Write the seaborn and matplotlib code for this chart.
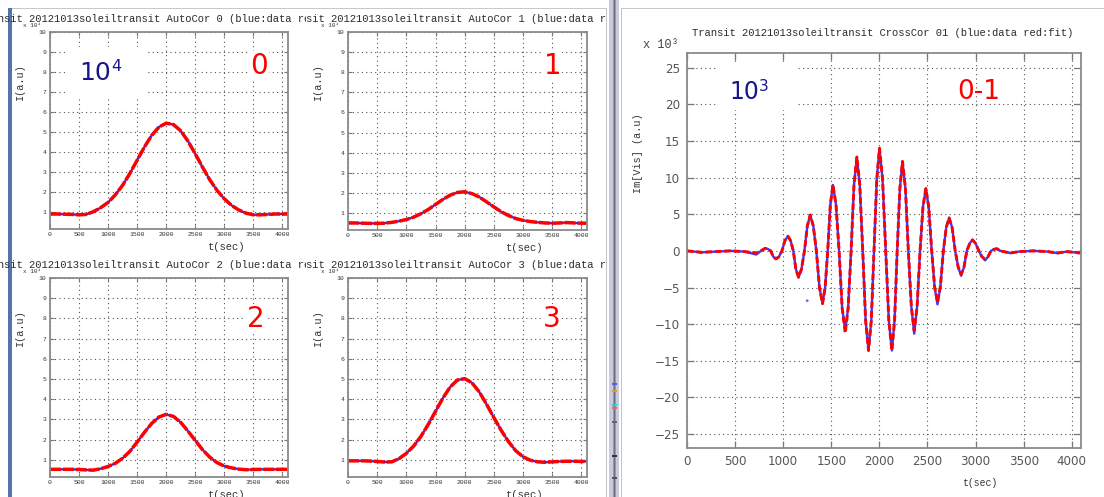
import numpy as np
import pandas as pd
import matplotlib
matplotlib.use("Agg")
import matplotlib.pyplot as plt
import seaborn as sns
from matplotlib.patches import Rectangle
from matplotlib.transforms import Bbox, TransformedBbox

# ---------------------------------------------------------------- data
t_auto = [0, 125, 250, 375, 500, 625, 750, 875, 1000, 1125, 1250, 1375, 1500,
          1625, 1750, 1875, 2000, 2125, 2250, 2375, 2500, 2625, 2750, 2875,
          3000, 3125, 3250, 3375, 3500, 3625, 3750, 3875, 4000, 4096]

# auto-correlations, units of 1e4
auto0 = [0.90, 0.90, 0.89, 0.88, 0.86, 0.88, 1.02, 1.22, 1.48, 1.86, 2.34, 2.93,
         3.59, 4.25, 4.83, 5.25, 5.44, 5.37, 5.06, 4.54, 3.91, 3.24, 2.61, 2.08,
         1.66, 1.33, 1.10, 0.94, 0.86, 0.86, 0.88, 0.90, 0.90, 0.90]
auto1 = [0.50, 0.50, 0.49, 0.48, 0.48, 0.49, 0.53, 0.59, 0.67, 0.79, 0.96, 1.17,
         1.42, 1.67, 1.88, 2.02, 2.05, 1.96, 1.79, 1.55, 1.30, 1.06, 0.87, 0.72,
         0.63, 0.57, 0.53, 0.50, 0.49, 0.50, 0.52, 0.50, 0.49, 0.49]
auto2 = [0.53, 0.53, 0.53, 0.53, 0.52, 0.50, 0.49, 0.56, 0.67, 0.83, 1.08, 1.42,
         1.88, 2.36, 2.80, 3.12, 3.25, 3.15, 2.85, 2.42, 1.96, 1.50, 1.13, 0.86,
         0.69, 0.60, 0.54, 0.51, 0.52, 0.53, 0.53, 0.53, 0.53, 0.53]
auto3 = [0.95, 0.95, 0.95, 0.94, 0.92, 0.89, 0.90, 1.06, 1.32, 1.68, 2.16, 2.75,
         3.40, 4.05, 4.60, 4.95, 5.02, 4.81, 4.36, 3.75, 3.09, 2.46, 1.90, 1.45,
         1.15, 0.98, 0.90, 0.88, 0.90, 0.92, 0.93, 0.93, 0.92, 0.92]

# cross-correlation 0-1, units of 1e3
t_cross = [0, 150, 300, 450, 600, 720, 780, 814, 842, 870, 897, 925, 956, 987,
           1018, 1049, 1077, 1105, 1132, 1160, 1190, 1221, 1251, 1281, 1313,
           1345, 1377, 1409, 1436, 1463, 1490, 1517, 1549, 1581, 1613, 1645,
           1675, 1706, 1736, 1766, 1796, 1827, 1857, 1887, 1916, 1944, 1973,
           2001, 2033, 2066, 2098, 2130, 2158, 2185, 2213, 2240, 2271, 2301,
           2332, 2362, 2392, 2423, 2453, 2483, 2513, 2544, 2574, 2604, 2634,
           2665, 2695, 2725, 2756, 2788, 2819, 2850, 2880, 2909, 2939, 2968,
           3001, 3034, 3066, 3099, 3129, 3160, 3190, 3220, 3260, 3359, 3450,
           3600, 3750, 3850, 3950, 4096]
cross_fit = [0.0, -0.2, -0.1, 0.0, -0.1, -0.3, 0.1, 0.35, 0.25, 0.0, -0.8, -1.1,
             -0.8, 0.0, 1.4, 2.0, 1.4, 0.0, -2.5, -3.6, -2.5, 0.0, 3.4, 4.9, 3.4,
             0.0, -5.0, -7.2, -5.0, 0.0, 6.3, 9.0, 6.3, 0.0, -7.8, -11.2, -7.8,
             0.0, 9.0, 12.8, 9.0, 0.0, -9.5, -13.6, -9.5, 0.0, 9.8, 14.0, 9.8,
             0.0, -9.5, -13.6, -9.5, 0.0, 8.5, 12.2, 8.5, 0.0, -7.6, -10.9, -7.6,
             0.0, 6.0, 8.5, 6.0, 0.0, -4.9, -7.0, -4.9, 0.0, 3.2, 4.5, 3.2, 0.0,
             -2.2, -3.2, -2.2, 0.0, 1.0, 1.5, 1.0, 0.0, -0.8, -1.1, -0.8, 0.0,
             0.2, 0.3, 0.0, -0.3, -0.1, 0.0, -0.1, -0.3, -0.1, -0.3]
# measured samples that sit off the fit
data_offsets = {720: -0.5, 1645: -10.8, 2362: -11.3, 2604: -7.3, 2850: -3.4, 3099: -1.3}
stray_t = [1250]
stray_v = [-6.8]

x_ticks = [0, 500, 1000, 1500, 2000, 2500, 3000, 3500, 4000]
auto_yticks = [1, 2, 3, 4, 5, 6, 7, 8, 9, 10]
cross_yticks = [-25, -20, -15, -10, -5, 0, 5, 10, 15, 20, 25]

panel_ids = ["0", "1", "2", "3"]
panel_curves = [auto0, auto1, auto2, auto3]

# ---------------------------------------------------------------- style
sns.set_theme(style="ticks")
MONO = ["Liberation Mono", "DejaVu Sans Mono"]
SANS = ["DejaVu Sans"]
plt.rcParams["font.family"] = SANS

W, H = 1104, 497
fig = plt.figure(figsize=(W / 100, H / 100), dpi=100, facecolor="white")


def fx(x):
    return x / W


def fy(y):
    return 1 - y / H


def add_axes_px(l, t, r, b):
    return fig.add_axes([fx(l), fy(b), (r - l) / W, (b - t) / H])


def rect_px(x0, y0, x1, y1, color, z=1):
    fig.add_artist(Rectangle((fx(x0), fy(y1)), (x1 - x0) / W, (y1 - y0) / H,
                             transform=fig.transFigure, facecolor=color,
                             edgecolor="none", zorder=z))


def text_px(x, y, s, **kw):
    return fig.text(fx(x), fy(y), s, **kw)


def clipped_text(x, y, s, x0, x1, **kw):
    t = text_px(x, y, s, **kw)
    t.set_clip_box(TransformedBbox(Bbox.from_extents(fx(x0), 0, fx(x1), 1),
                                   fig.transFigure))
    t.set_clip_on(True)
    return t


def style_axes(ax, small):
    for sp in ax.spines.values():
        sp.set_color("#8a8a8a")
        sp.set_linewidth(1.3)
    ax.grid(True, which="major", color="#555555", linestyle=(0, (1, 3)),
            linewidth=0.8)
    ax.set_axisbelow(True)
    ax.set_xlabel("")
    ax.set_ylabel("")
    if small:
        ax.tick_params(direction="in", top=True, right=True, length=3,
                       width=0.8, color="#777777", labelsize=4.6,
                       labelcolor="#333333", pad=2.5)
    else:
        ax.tick_params(direction="in", top=True, right=True, length=5,
                       width=0.9, color="#777777", labelsize=8.6,
                       labelcolor="#555555", pad=5)


# ---------------------------------------------------------------- window frames
rect_px(0, 0, W, H, "white", z=-5)
rect_px(8, 7.5, 607, 8.7, "#c9c9c9")        # left window top edge
rect_px(8, 8, 11.5, H, "#5574a8")           # left window side bar
rect_px(606, 8, 607.2, H, "#c4c4c4")        # left window right edge
rect_px(609, 0, 619, H, "#c7cbe2")          # scrollbar strip
rect_px(612.5, 0, 616, H, "#9a9a9a")
rect_px(613.8, 0, 614.6, H, "#707070")
for y0, c in [(383, "#5b5bd0"), (390, "#d89a3a"), (404, "#3ac8c8"),
              (407, "#d86a6a"), (421, "#666666"), (455, "#333333"),
              (477, "#555555")]:
    rect_px(612, y0, 617, y0 + 2, c)
rect_px(620.5, 8, 622, H, "#c4c4c4")        # right window left edge
rect_px(621, 7.5, W, 8.7, "#c9c9c9")        # right window top edge

# ---------------------------------------------------------------- auto-correlation panels
panel_boxes = [(50, 32, 288, 229), (348, 32, 587, 230),
               (50, 278, 288, 477), (348, 278, 587, 477)]
title_rows = [19, 19, 265.5, 265.5]
title_shift = [-5.5, -2.5, -5.5, -2.5]
clip_cols = [(0, 306), (305, 606), (0, 306), (305, 606)]
id_pos = [(259.5, 66), (552.5, 66), (255.5, 319), (551.5, 319)]

for k in range(4):
    l, t, r, b = panel_boxes[k]
    ax = add_axes_px(l, t, r, b)
    df = pd.DataFrame({"t": t_auto, "I": panel_curves[k]})
    sns.lineplot(data=df, x="t", y="I", ax=ax, color="#2a2aff", lw=1.6,
                 errorbar=None, legend=False)
    sns.lineplot(data=df, x="t", y="I", ax=ax, color="#ff0000", lw=2.5,
                 errorbar=None, legend=False)
    ax.lines[-1].set_dashes([3.2, 0.5])
    ax.set_xlim(0, 4096)
    ax.set_ylim(0.15, 10)
    ax.set_xticks(x_ticks)
    ax.set_yticks(auto_yticks)
    ax.set_xticklabels([str(v) for v in x_ticks], family=MONO)
    ax.set_yticklabels([str(v) for v in auto_yticks], family=MONO)
    style_axes(ax, small=True)

    cx = (l + r) / 2 + title_shift[k]
    x0, x1 = clip_cols[k]
    clipped_text(cx, title_rows[k],
                 f"Transit 20121013soleiltransit AutoCor {panel_ids[k]} (blue:data red:fit)",
                 x0, x1, ha="center", va="center", fontsize=7.6, family=MONO,
                 color="#2b2b2b")
    text_px(l - 27, t - 6.5, "x 10\u2074", ha="left", va="center", fontsize=4.3,
            family=MONO, color="#333333")
    text_px(l - 30, t + 50, "I(a.u)", ha="center", va="center", rotation=90,
            fontsize=7.4, family=MONO, color="#333333")
    text_px(l + 177, b + 18, "t(sec)", ha="center", va="center", fontsize=7.6,
            family=MONO, color="#333333")
    ix, iy = id_pos[k]
    text_px(ix, iy, panel_ids[k], ha="center", va="center", fontsize=20,
            family=SANS, color="#ff0000", zorder=4,
            bbox=dict(facecolor="white", edgecolor="none", pad=0.5))

# exponent note on panel 0
rect_px(65, 47, 145, 98, "white", z=2)
text_px(79, 72.5, "10", ha="left", va="center", fontsize=18, family=SANS,
        color="#16168a", zorder=4)
text_px(111, 66.5, "4", ha="left", va="center", fontsize=11.5, family=SANS,
        color="#16168a", zorder=4)

# ---------------------------------------------------------------- cross-correlation panel
L, T, R, B = 687, 53, 1081, 448
axc = add_axes_px(L, T, R, B)
cross_data = [data_offsets.get(tt, v) for tt, v in zip(t_cross, cross_fit)]
dfc = pd.DataFrame({"t": t_cross, "fit": cross_fit, "data": cross_data})
sns.lineplot(data=dfc, x="t", y="data", ax=axc, color="#3a3aff", lw=1.7,
             errorbar=None, legend=False)
sns.lineplot(data=dfc, x="t", y="fit", ax=axc, color="#ff0000", lw=2.1,
             errorbar=None, legend=False)
axc.lines[-1].set_dashes([2.2, 1.0])
sns.scatterplot(x=stray_t, y=stray_v, ax=axc, color="#6a6aff", s=4,
                edgecolor="none", legend=False)
axc.set_xlim(0, 4096)
axc.set_ylim(-26.9, 27.0)
axc.set_xticks(x_ticks)
axc.set_yticks(cross_yticks)
axc.set_yticklabels([("\u2212" + str(-v)) if v < 0 else str(v)
                     for v in cross_yticks])
style_axes(axc, small=False)

text_px((L + R) / 2 - 1.5, 33, "Transit 20121013soleiltransit CrossCor 01 (blue:data red:fit)",
        ha="center", va="center", fontsize=7.6, family=MONO, color="#2b2b2b")
text_px(643, 45, "x 10\u00b3", ha="left", va="center", fontsize=8.6,
        family=MONO, color="#444444")
text_px(638, 153, "Im[Vis] (a.u)", ha="center", va="center", rotation=90,
        fontsize=7.3, family=MONO, color="#333333")
text_px(980, 483, "t(sec)", ha="center", va="center", fontsize=7.0,
        family=MONO, color="#333333")

rect_px(717, 63, 798, 110, "white", z=2)
text_px(729, 92, "10", ha="left", va="center", fontsize=17, family=SANS,
        color="#16168a", zorder=4)
text_px(759, 86.5, "3", ha="left", va="center", fontsize=11, family=SANS,
        color="#16168a", zorder=4)
text_px(979, 92, "0-1", ha="center", va="center", fontsize=19, family=SANS,
        color="#ff0000", zorder=4)

fig.savefig("out.png", dpi=100, facecolor="white")
